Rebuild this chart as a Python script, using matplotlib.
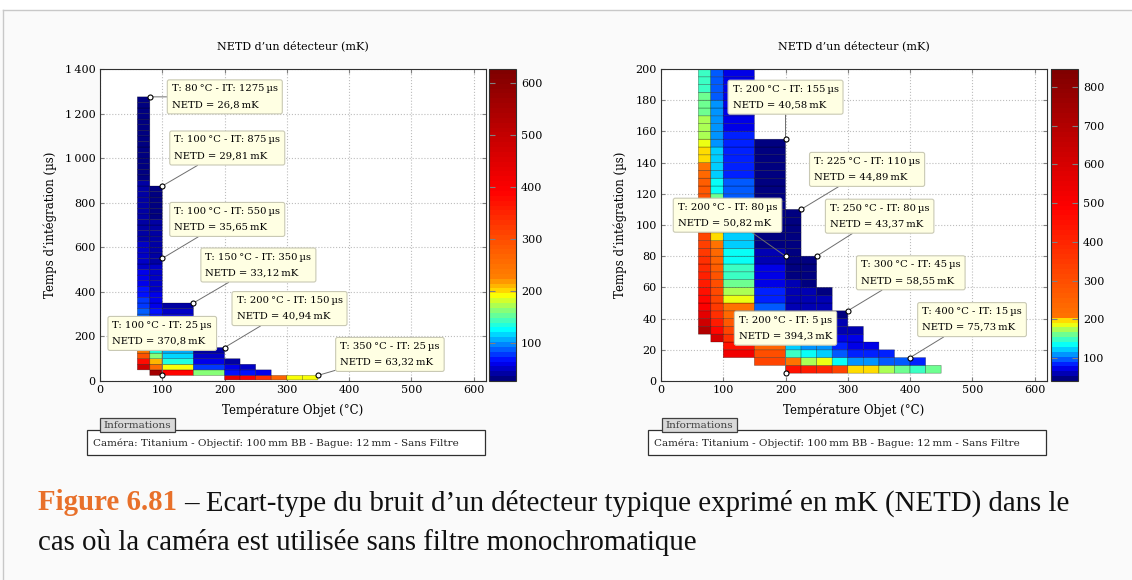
import numpy as np
import matplotlib
matplotlib.use("Agg")
import matplotlib.pyplot as plt
from matplotlib.colors import LinearSegmentedColormap
from matplotlib.patches import Rectangle

plt.rcParams['font.family'] = ['DejaVu Serif']

W, H = 1132, 580

# ---------------- left panel data (IT step 25 us) ----------------
left_T_edges = [60, 80, 100, 150, 200, 225, 250, 275, 300, 325, 350]
left_IT_edges = [5] + list(range(25, 1276, 25))
left_first_row = [2, 1, 1, 1, 0, 0, 0, 0, 0, 0]
left_c1 = [480, 380, 290, 240, 200, 170, 140, 120, 100, 92, 86, 80, 75, 70, 66, 62, 59, 56,
           54, 52, 50, 48, 46, 45, 44, 43, 42, 41, 40, 39, 38.5, 38, 37, 36.5, 36, 35, 34.5,
           34, 33, 32.5, 32, 31, 30.5, 30, 29.5, 29, 28, 27.5, 27]
left_c2 = [560, 260, 210, 165, 135, 115, 100, 90, 84, 78, 73, 68, 64, 60, 57, 54, 52, 50,
           48, 46, 44, 43, 42, 41, 40, 39, 38, 37, 36, 35, 34, 33, 31, 30]
left_c3 = [390, 195, 135, 120, 105, 92, 82, 74, 68, 62, 56, 50, 45]
left_c4 = [160, 80, 62, 52, 45]
left_c5 = [430, 70, 55, 45]
left_c6 = [400, 65, 50]
left_c7 = [340, 60]
left_c8 = [270]
left_c9 = [190]
left_c10 = [188]
left_cols = [left_c1, left_c2, left_c3, left_c4, left_c5, left_c6, left_c7, left_c8, left_c9, left_c10]

left_tip_T = [80, 100, 100, 150, 200, 100, 350]
left_tip_IT = [1275, 875, 550, 350, 150, 25, 25]
left_tip_netd = ['26,8', '29,81', '35,65', '33,12', '40,94', '370,8', '63,32']

# ---------------- right panel data (IT step 5 us) ----------------
right_T_edges = [60, 80, 100, 150, 200, 225, 250, 275, 300, 325, 350, 375, 400, 425, 450]
right_IT_edges = list(range(5, 206, 5))
right_first_row = [5, 4, 2, 1, 0, 0, 0, 0, 0, 0, 0, 0, 0, 0]
right_cA = [700, 620, 560, 500, 470, 450, 430, 410, 390, 370, 350, 340, 330,
            320, 310, 300, 290, 280,
            270, 255, 235, 215, 198, 192, 185, 178, 172, 168, 165, 160, 155, 150, 147, 145]
right_cB = [600, 480, 420, 380, 350, 330, 310, 295, 280, 265, 250, 235, 215, 198,
            192, 185, 175, 165, 155,
            135, 130, 125, 122, 120, 118, 115, 112, 110, 108, 106, 104, 102, 100, 98, 96]
right_cC = [520, 450, 380, 320, 270, 230, 205, 190, 175, 165, 150, 145, 140, 135, 128, 125,
            122, 118, 112, 105, 98, 95, 92, 90, 88, 86, 84, 82, 80, 78, 76, 75, 74, 73, 72,
            71, 70]
right_cD = [330, 300, 250, 200, 150, 120, 105, 98, 90, 82, 76, 70, 66, 62, 58, 53, 50, 48,
            47, 46, 45, 44, 43.5, 43, 42.5, 42, 41.5, 41, 40.8]
right_cE = [450, 210, 145, 118, 100, 88, 78, 70, 64, 60, 57, 54, 52, 50, 49, 48, 46, 45,
            44, 43, 42]
right_cF = [420, 175, 130, 110, 95, 85, 76, 70, 64, 60, 56, 52, 49, 47, 45]
right_cG = [400, 180, 125, 105, 92, 82, 74, 68, 62, 57, 53]
right_cH = [330, 135, 95, 85, 72, 62, 56, 52]
right_cI = [198, 110, 88, 76, 66, 58]
right_cJ = [197, 108, 85, 72]
right_cK = [175, 95, 80]
right_cL = [165, 92]
right_cM = [145, 88]
right_cN = [155]
right_cols = [right_cA, right_cB, right_cC, right_cD, right_cE, right_cF, right_cG, right_cH,
              right_cI, right_cJ, right_cK, right_cL, right_cM, right_cN]

right_tip_T = [200, 225, 200, 250, 300, 400, 200]
right_tip_IT = [155, 110, 80, 80, 45, 15, 5]
right_tip_netd = ['40,58', '44,89', '50,82', '43,37', '58,55', '75,73', '394,3']


def make_cmap(vmin, vmax, nodes):
    pts = [((v - vmin) / (vmax - vmin), c) for v, c in nodes]
    return LinearSegmentedColormap.from_list('netd', pts, N=64)


left_cmap = make_cmap(26.8, 626, [(26.8, (0, 0, 0.5)), (61, (0, 0, 1)), (92, (0, 0.5, 1)),
                                  (122, (0, 1, 1)), (158, (0.5, 1, 0.5)), (190, (1, 1, 0)),
                                  (200, (1, 0.8, 0)), (225, (1, 0.5, 0)), (300, (1, 0.3, 0)),
                                  (392, (1, 0, 0)), (626, (0.5, 0, 0))])
right_cmap = make_cmap(40.6, 846, [(40.6, (0, 0, 0.5)), (72, (0, 0, 1)), (100, (0, 0.5, 1)),
                                   (128, (0, 1, 1)), (160, (0.5, 1, 0.5)), (185, (1, 1, 0)),
                                   (198, (1, 0.8, 0)), (205, (1, 0.45, 0)), (490, (1, 0, 0)),
                                   (846, (0.5, 0, 0))])


def grid_from_cols(T_edges, IT_edges, first_rows, cols):
    Z = np.full((len(IT_edges) - 1, len(T_edges) - 1), np.nan)
    for j, (r0, vals) in enumerate(zip(first_rows, cols)):
        Z[r0:r0 + len(vals), j] = vals
    return np.ma.masked_invalid(Z)


def fr(x, y, w, h):
    # pixel box (top-left origin) -> figure fraction
    return [x / W, 1 - (y + h) / H, w / W, h / H]


fig = plt.figure(figsize=(W / 100, H / 100), dpi=100, facecolor='#fafafa')

# page frame
fig.patches.append(Rectangle((0, 1 - 10 / H), 1, 10 / H, transform=fig.transFigure,
                             facecolor='white', edgecolor='none'))
fig.add_artist(plt.Line2D([3 / W, 1], [1 - 10 / H, 1 - 10 / H], transform=fig.transFigure,
                          color='#c8c8c8', lw=1))
fig.add_artist(plt.Line2D([3 / W, 3 / W], [0, 1 - 10 / H], transform=fig.transFigure,
                          color='#c8c8c8', lw=1))


def draw_panel(ax_x, cb_x, T_edges, IT_edges, first_rows, cols, cmap, vmin, vmax,
               ylim, yticks, ylabels, cbticks, tips_T, tips_IT, tips_netd, offsets):
    ax = fig.add_axes(fr(ax_x, 69, 386, 312))
    Z = grid_from_cols(T_edges, IT_edges, first_rows, cols)
    mesh = ax.pcolor(T_edges, IT_edges, Z, cmap=cmap, vmin=vmin, vmax=vmax,
                     edgecolors=(0, 0, 0, 0.45), linewidth=0.4, zorder=2)
    ax.set_xlim(0, 620)
    ax.set_ylim(*ylim)
    ax.set_xticks(range(0, 601, 100))
    ax.set_yticks(yticks)
    ax.set_yticklabels(ylabels)
    ax.grid(True, linestyle=':', color='#bdbdbd', linewidth=0.8, zorder=0)
    ax.set_axisbelow(True)
    ax.tick_params(direction='in', length=3, color='#808080', labelsize=8, top=True,
                   right=True, pad=3)
    for s in ax.spines.values():
        s.set_color('#303030')
        s.set_linewidth(0.8)
    ax.set_facecolor('white')
    ax.set_title("NETD d\u2019un détecteur (mK)", fontsize=8, pad=14)
    ax.set_xlabel('Température Objet (°C)', fontsize=8.5, labelpad=6)
    ax.set_ylabel('Temps d\u2019intégration (µs)', fontsize=8.5, labelpad=6)

    for T, IT, n, (dx, dy) in zip(tips_T, tips_IT, tips_netd, offsets):
        txt = 'T: %d\u2009°C - IT: %d\u2009µs\nNETD = %s\u2009mK' % (T, IT, n)
        ax.annotate(txt, xy=(T, IT), xytext=(dx, dy), textcoords='offset pixels',
                    ha='center', va='center', multialignment='left', fontsize=7.2,
                    linespacing=2.0, zorder=6,
                    bbox=dict(boxstyle='round,pad=0.45,rounding_size=0.2', fc='#ffffe3',
                              ec='#c9c9b4', lw=0.8),
                    arrowprops=dict(arrowstyle='-', color='#6e6e6e', lw=0.7,
                                    shrinkA=0, shrinkB=1.5))
        ax.plot(T, IT, 'o', mfc='white', mec='black', ms=3.6, mew=0.8, zorder=7,
                clip_on=False)

    cax = fig.add_axes(fr(cb_x, 69, 27, 312))
    cb = fig.colorbar(mesh, cax=cax)
    cb.set_ticks(cbticks)
    cax.tick_params(direction='in', length=4, color='#808080', labelsize=8, left=True,
                    right=True)
    cb.outline.set_edgecolor('#303030')
    cb.outline.set_linewidth(0.8)
    return ax


left_offsets = [(75, 0), (65, 38), (65, 39), (65, 38), (65, 39), (0, 42), (72, 21)]
right_offsets = [(0, 42), (66, 40), (-58, 41), (63, 40), (63, 38), (62, 38), (0, 45)]

draw_panel(100, 489, left_T_edges, left_IT_edges, left_first_row, left_cols, left_cmap,
           26.8, 626, (0, 1400), range(0, 1401, 200),
           ['0', '200', '400', '600', '800', '1\u2009000', '1\u2009200', '1\u2009400'],
           range(100, 601, 100), left_tip_T, left_tip_IT, left_tip_netd, left_offsets)
draw_panel(661, 1051, right_T_edges, right_IT_edges, right_first_row, right_cols, right_cmap,
           40.6, 846, (0, 200), range(0, 201, 20), [str(v) for v in range(0, 201, 20)],
           range(100, 801, 100), right_tip_T, right_tip_IT, right_tip_netd, right_offsets)

# info boxes
info = 'Caméra: Titanium - Objectif: 100\u2009mm BB - Bague: 12\u2009mm - Sans Filtre'
for bx, tx in [(87, 100), (648, 662)]:
    fig.patches.append(Rectangle(fr(bx, 430, 398, 25)[:2], 398 / W, 25 / H,
                                 transform=fig.transFigure, facecolor='white',
                                 edgecolor='#303030', lw=0.9))
    fig.patches.append(Rectangle(fr(tx, 418, 75, 14)[:2], 75 / W, 14 / H,
                                 transform=fig.transFigure, facecolor='#d9d9d9',
                                 edgecolor='#404040', lw=0.9))
    fig.text((tx + 37.5) / W, 1 - 425 / H, 'Informations', fontsize=7.5, color='#404040',
             ha='center', va='center')
    fig.text((bx + 6) / W, 1 - 443 / H, info, fontsize=7.5, color='#202020',
             ha='left', va='center')

# caption
cap_font = ['Liberation Serif', 'DejaVu Serif']
t1 = fig.text(38 / W, 1 - 503 / H, 'Figure 6.81', fontsize=20.8, color='#e8702a',
              fontweight='bold', ha='left', va='center', family=cap_font)
fig.canvas.draw()
bb = t1.get_window_extent()
fig.text((bb.x1 + 7) / W, 1 - 503 / H,
         '\u2013 Ecart-type du bruit d\u2019un détecteur typique exprimé en mK (NETD) dans le',
         fontsize=20.8, color='#111111', ha='left', va='center', family=cap_font)
fig.text(38 / W, 1 - 543 / H, 'cas où la caméra est utilisée sans filtre monochromatique',
         fontsize=20.8, color='#111111', ha='left', va='center', family=cap_font)

fig.savefig('out.png', dpi=100, facecolor=fig.get_facecolor())
